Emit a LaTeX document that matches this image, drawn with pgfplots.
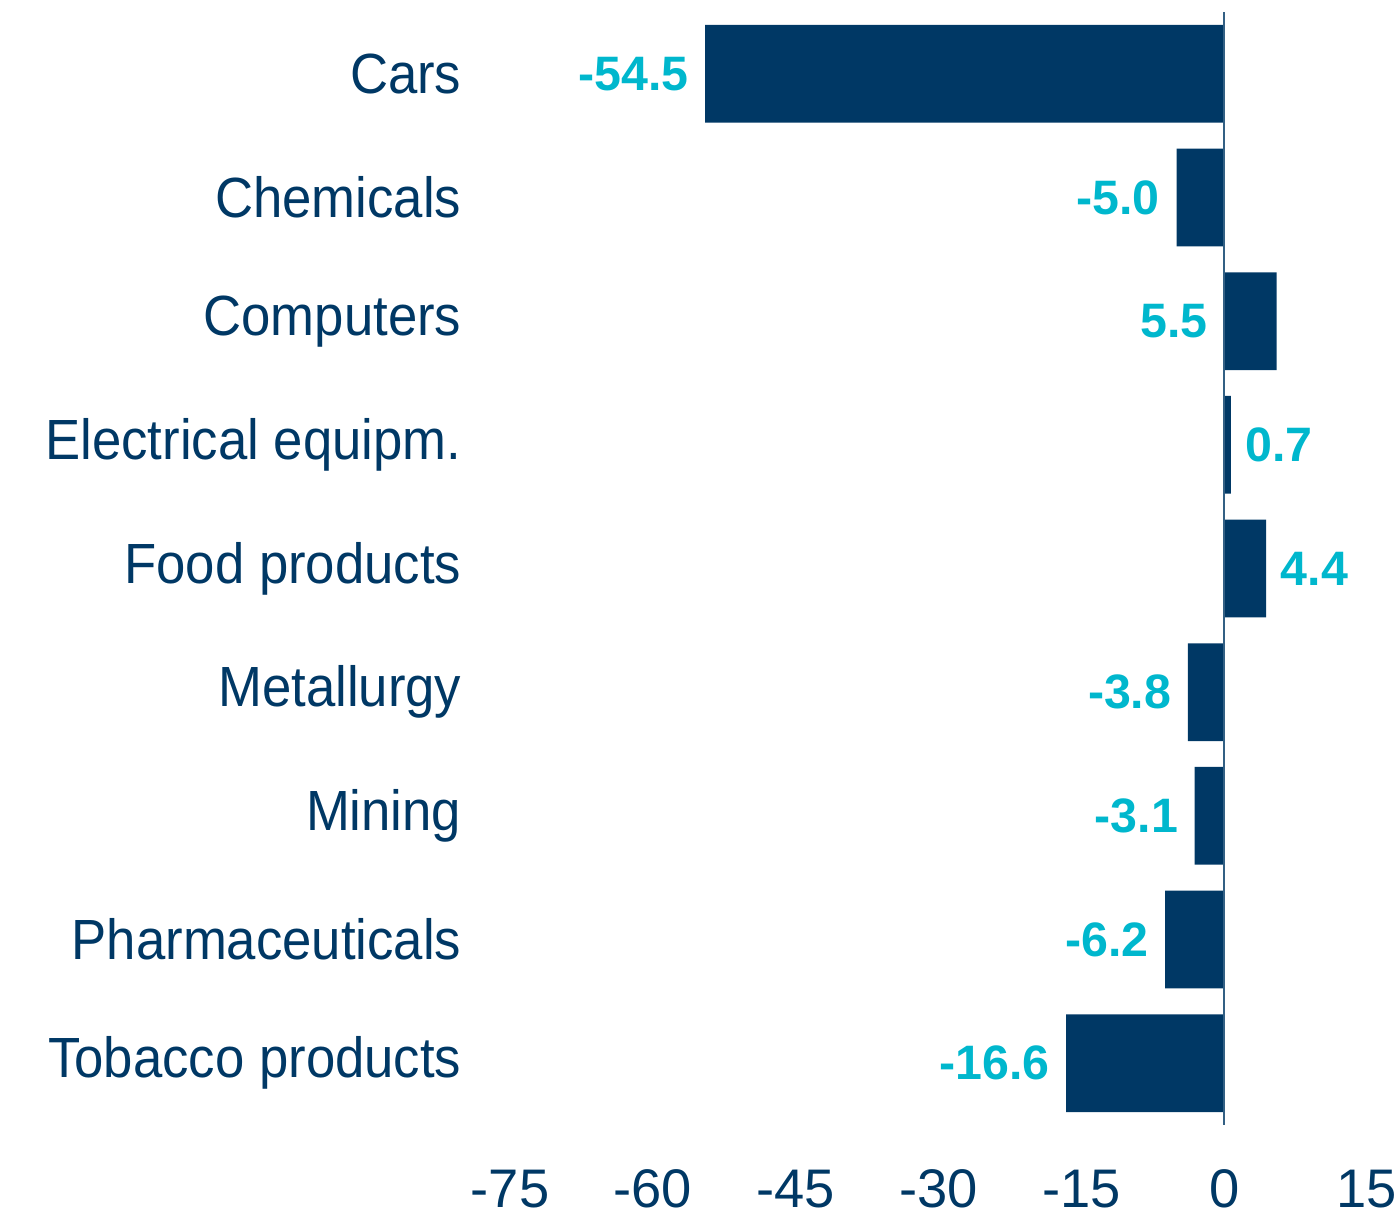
\documentclass[border=0pt]{standalone}
\usepackage{pgfplots}
\pgfplotsset{compat=1.18}
\usepackage{pgfplotstable}
\usepackage{fontspec}
\setmainfont{Liberation Sans}
\newfontfamily\catfont[FakeStretch=0.93]{Liberation Sans}
\definecolor{barnavy}{RGB}{0,56,101}
\definecolor{labcyan}{RGB}{0,183,205}

\pgfplotstableread{
y x
0 -54.5
1 -5.0
2 5.5
3 0.7
4 4.4
5 -3.8
6 -3.1
7 -6.2
8 -16.6
}\bars

% labels set left of their anchor point
\pgfplotstableread{
y x label
0 -54.5 -54.5
1 -5.0 -5.0
2 0 5.5
5 -3.8 -3.8
6 -3.1 -3.1
7 -6.2 -6.2
8 -16.6 -16.6
}\lableft

% labels set right of their anchor point
\pgfplotstableread{
y x label
3 0.7 0.7
4 4.4 4.4
}\labright

\begin{document}
\begin{tikzpicture}
\begin{axis}[
    name=ax,
    scale only axis,
    width=257.1pt, height=333.9pt,
    xmin=-75, xmax=15, ymin=-0.5, ymax=8.5,
    enlargelimits=false,
    y dir=reverse,
    axis line style={draw=none},
    tick style={draw=none},
    xtick={-75,-60,-45,-30,-15,0,15},
    xticklabels={-75,-60,-45,-30,-15,0,15},
    ytick={0,...,8},
    yticklabels={Cars,Chemicals,Computers,Electrical equipm.,Food products,Metallurgy,Mining,Pharmaceuticals,Tobacco products},
    xticklabel style={anchor=north, inner sep=0pt, yshift=-13.2pt,
        font=\fontsize{16.3}{19}\selectfont, text=barnavy},
    yticklabel style={anchor=east, inner sep=0pt, xshift=-14.4pt,
        font=\catfont\fontsize{17}{20}\selectfont, text=barnavy},
    clip=false,
]
\addplot[xbar, bar width=0.79, fill=barnavy, draw=none] table[x=x, y=y] {\bars};
\draw[barnavy!80, line width=0.6pt] (axis cs:0,-0.5) -- (axis cs:0,8.5);
\addplot[draw=none, mark=none, nodes near coords, point meta=explicit symbolic,
    nodes near coords align={anchor=east},
    every node near coord/.append style={anchor=east, xshift=-4.8pt, inner sep=0pt,
        font=\bfseries\fontsize{14.5}{17}\selectfont, text=labcyan}]
    table[x=x, y=y, meta=label] {\lableft};
\addplot[draw=none, mark=none, nodes near coords, point meta=explicit symbolic,
    nodes near coords align={anchor=west},
    every node near coord/.append style={anchor=west, xshift=4.2pt, inner sep=0pt,
        font=\bfseries\fontsize{14.5}{17}\selectfont, text=labcyan}]
    table[x=x, y=y, meta=label] {\labright};
\end{axis}
\path ([xshift=-153pt,yshift=-27pt]ax.south west) rectangle ([xshift=9.6pt,yshift=3.6pt]ax.north east);
\end{tikzpicture}
\end{document}
